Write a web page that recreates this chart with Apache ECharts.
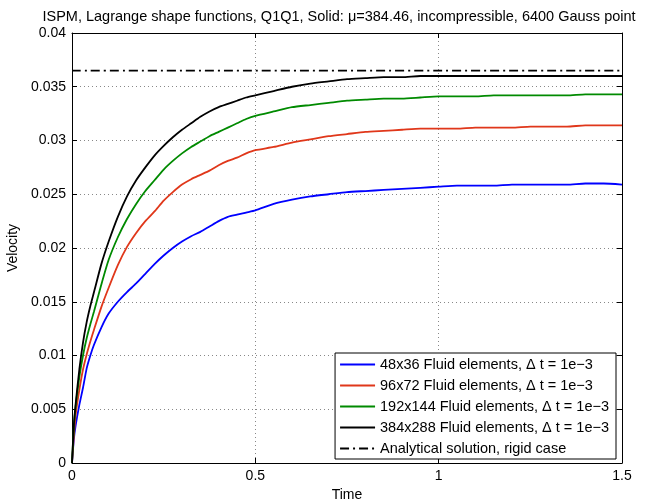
<!DOCTYPE html>
<html>
<head>
<meta charset="utf-8">
<script src="https://cdn.jsdelivr.net/npm/echarts@6/dist/echarts.min.js"></script>
<style>html,body{margin:0;padding:0;background:#fff}#c{width:654px;height:503px}</style>
</head>
<body>
<div id="c"></div>
<script>
var times = [0, 0.005, 0.01, 0.02, 0.03, 0.04, 0.05, 0.06, 0.08, 0.1, 0.125, 0.15, 0.175, 0.2, 0.225, 0.25, 0.275, 0.3, 0.325, 0.35, 0.375, 0.4, 0.425, 0.45, 0.475, 0.5, 0.55, 0.6, 0.65, 0.7, 0.75, 0.8, 0.85, 0.9, 0.95, 1.0, 1.05, 1.1, 1.15, 1.2, 1.25, 1.3, 1.35, 1.4, 1.45, 1.5];
var v48 = [0, 0.0022, 0.0035, 0.0054, 0.0070, 0.0088, 0.0100, 0.0110, 0.0126, 0.0139, 0.0150, 0.0159, 0.0167, 0.0176, 0.0185, 0.0193, 0.0200, 0.0206, 0.0211, 0.0215, 0.0220, 0.0225, 0.0229, 0.0231, 0.0233, 0.0235, 0.0241, 0.0245, 0.0248, 0.0250, 0.0252, 0.0253, 0.0254, 0.0255, 0.0256, 0.0257, 0.0258, 0.0258, 0.0258, 0.0259, 0.0259, 0.0259, 0.0259, 0.0260, 0.0260, 0.0259];
var v96 = [0, 0.0025, 0.0045, 0.0068, 0.0087, 0.0101, 0.0113, 0.0124, 0.0145, 0.0163, 0.0184, 0.0201, 0.0214, 0.0225, 0.0234, 0.0244, 0.0252, 0.0259, 0.0264, 0.0268, 0.0272, 0.0277, 0.0281, 0.0284, 0.0288, 0.0291, 0.0294, 0.0298, 0.0301, 0.0304, 0.0306, 0.0308, 0.0309, 0.0310, 0.0311, 0.0311, 0.0311, 0.0312, 0.0312, 0.0312, 0.0313, 0.0313, 0.0313, 0.0314, 0.0314, 0.0314];
var v192 = [0, 0.0033, 0.0053, 0.0080, 0.0100, 0.0116, 0.0129, 0.0141, 0.0166, 0.0189, 0.0210, 0.0227, 0.0241, 0.0253, 0.0263, 0.0273, 0.0281, 0.0288, 0.0294, 0.0299, 0.0304, 0.0308, 0.0312, 0.0316, 0.0320, 0.0323, 0.0327, 0.0331, 0.0333, 0.0335, 0.0337, 0.0338, 0.0339, 0.0339, 0.0340, 0.0341, 0.0341, 0.0341, 0.0342, 0.0342, 0.0342, 0.0342, 0.0342, 0.0343, 0.0343, 0.0343];
var v384 = [0, 0.0035, 0.0055, 0.0087, 0.0112, 0.0131, 0.0146, 0.0159, 0.0185, 0.0206, 0.0229, 0.0248, 0.0263, 0.0275, 0.0286, 0.0295, 0.0303, 0.0310, 0.0316, 0.0322, 0.0327, 0.0331, 0.0334, 0.0337, 0.0340, 0.0342, 0.0346, 0.0350, 0.0353, 0.0355, 0.0357, 0.0358, 0.0359, 0.0359, 0.0360, 0.0360, 0.0360, 0.0360, 0.0360, 0.0360, 0.0360, 0.0360, 0.0360, 0.0360, 0.0360, 0.0360];
var analyticalTimes = [0, 1.5];
var analytical = [0.0365, 0.0365];
var seriesNames = ['48x36 Fluid elements, \u0394 t = 1e\u22123', '96x72 Fluid elements, \u0394 t = 1e\u22123', '192x144 Fluid elements, \u0394 t = 1e\u22123', '384x288 Fluid elements, \u0394 t = 1e\u22123', 'Analytical solution, rigid case'];
var xTicks = [0, 0.5, 1, 1.5];
var yTicks = [0, 0.005, 0.01, 0.015, 0.02, 0.025, 0.03, 0.035, 0.04];

function pairs(t, v) { return t.map(function (x, i) { return [x, v[i]]; }); }

var FONT = 'Liberation Sans';
var chart = echarts.init(document.getElementById('c'));
var axisCommon = {
  axisLine: { show: true, onZero: false, lineStyle: { color: '#000', width: 1 } },
  axisTick: { show: true, inside: true, length: 5, lineStyle: { color: '#000' } },
  nameTextStyle: { color: '#000', fontFamily: FONT, fontSize: 14 }
};
function mkLine(name, t, v, color, type) {
  return {
    name: name, type: 'line', data: pairs(t, v), showSymbol: false, symbol: 'none',
    smooth: 0.2, animation: false, lineStyle: { color: color, width: 1.8, type: type || 'solid' },
    itemStyle: { color: color }
  };
}
chart.setOption({
  animation: false,
  backgroundColor: '#fff',
  title: {
    text: 'ISPM, Lagrange shape functions, Q1Q1, Solid: \u03bc=384.46, incompressible, 6400 Gauss point',
    left: 334, top: 4, textAlign: 'center',
    textStyle: { fontFamily: FONT, fontSize: 14.5, fontWeight: 'normal', color: '#000' }
  },
  grid: { left: 72, right: 32, top: 33, bottom: 40, containLabel: false, outerBoundsMode: 'none' },
  legend: {
    orient: 'vertical', right: 38, bottom: 44,
    data: seriesNames, icon: 'inherit',
    itemStyle: { opacity: 0 },
    backgroundColor: '#fff', borderColor: '#000', borderWidth: 1,
    padding: [4, 7, 3, 4], itemGap: 6, itemWidth: 35, itemHeight: 14,
    textStyle: { fontFamily: FONT, fontSize: 14.5, color: '#000' }
  },
  xAxis: [
    Object.assign({}, axisCommon, {
      type: 'value', min: 0, max: 1.5, interval: 0.5, name: 'Time',
      nameLocation: 'middle', nameGap: 24,
      axisLabel: { color: '#000', fontFamily: FONT, fontSize: 14, margin: 6,
        formatter: function (v) { return xTicks.indexOf(v) >= 0 ? String(v) : ''; } },
      splitLine: { show: true, lineStyle: { color: '#888', type: [1, 3], width: 1 } }
    }),
    Object.assign({}, axisCommon, {
      type: 'value', min: 0, max: 1.5, interval: 0.5, position: 'top',
      axisLabel: { show: false }, splitLine: { show: false }
    })
  ],
  yAxis: [
    Object.assign({}, axisCommon, {
      type: 'value', min: 0, max: 0.04, interval: 0.005, name: 'Velocity',
      nameLocation: 'middle', nameGap: 45,
      axisLabel: { color: '#000', fontFamily: FONT, fontSize: 14, margin: 6,
        formatter: function (v) { return String(parseFloat(v.toFixed(3))); } },
      splitLine: { show: true, lineStyle: { color: '#888', type: [1, 3], width: 1 } }
    }),
    Object.assign({}, axisCommon, {
      type: 'value', min: 0, max: 0.04, interval: 0.005, position: 'right',
      axisLabel: { show: false }, splitLine: { show: false }
    })
  ],
  series: [
    mkLine(seriesNames[0], times, v48, '#0000ff'),
    mkLine(seriesNames[1], times, v96, '#e0371a'),
    mkLine(seriesNames[2], times, v192, '#008a00'),
    mkLine(seriesNames[3], times, v384, '#000000'),
    mkLine(seriesNames[4], analyticalTimes, analytical, '#000000', [9, 4, 2, 4])
  ]
});
</script>
</body>
</html>
